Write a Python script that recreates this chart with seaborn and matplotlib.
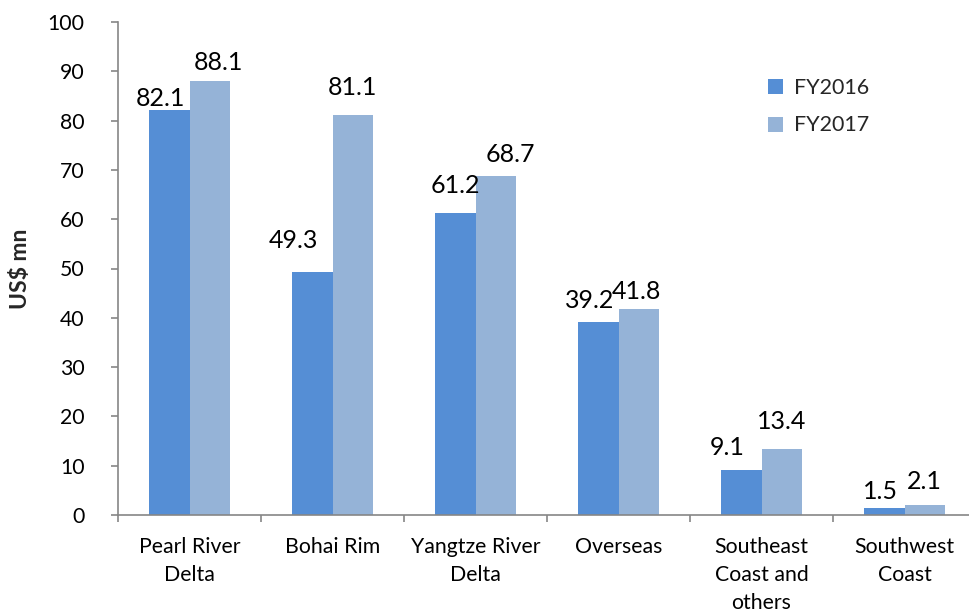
import matplotlib
matplotlib.use("Agg")
import matplotlib.pyplot as plt
from matplotlib.lines import Line2D
import seaborn as sns
import pandas as pd
import numpy as np

categories = ["Pearl River\nDelta", "Bohai Rim", "Yangtze River\nDelta", "Overseas",
              "Southeast\nCoast and\nothers", "Southwest\nCoast"]
series_names = ["FY2016", "FY2017"]
fy2016 = [82.1, 49.3, 61.2, 39.2, 9.1, 1.5]
fy2017 = [88.1, 81.1, 68.7, 41.8, 13.4, 2.1]
y_ticks = [0, 10, 20, 30, 40, 50, 60, 70, 80, 90, 100]

colors = ["#558ED5", "#95B3D7"]
# label offsets in pixels (dx, gap above bar top to baseline), mimicking the reference placement
offsets = [
    [(-9, 4), (-19, 24), (0, 20), (-8, 14), (-14, 15), (-4, 9)],
    [(9, 11), (0, 20), (14, 14), (-2, 10), (0, 20), (-1, 16)],
]

df = pd.DataFrame({
    "Region": categories * 2,
    "Value": fy2016 + fy2017,
    "Year": [series_names[0]] * len(categories) + [series_names[1]] * len(categories),
})

sns.set_theme(style="white")
plt.rcParams["font.family"] = ["Lato", "DejaVu Sans"]

W, H = 969, 613
fig = plt.figure(figsize=(W / 100, H / 100), dpi=100)
ax = fig.add_axes([118 / W, (H - 515) / H, 858 / W, (515 - 22) / H])

sns.barplot(data=df, x="Region", y="Value", hue="Year", palette=colors,
            width=0.57, saturation=1, linewidth=0, ax=ax, legend=False)

ax.set_ylim(0, 100)
ax.set_xlim(-0.5, len(categories) - 0.5)
ax.set_yticks(y_ticks)
ax.set_yticklabels([str(t) for t in y_ticks], fontsize=15.3, color="black")

axis_color = "#868686"
for s in ["top", "right"]:
    ax.spines[s].set_visible(False)
for s in ["left", "bottom"]:
    ax.spines[s].set_color(axis_color)
    ax.spines[s].set_linewidth(1.2)

ax.tick_params(axis="y", which="major", direction="out", length=5, width=1.2,
               color=axis_color, pad=19, left=True)
ax.set_xticks(range(len(categories)))
ax.set_xticklabels(categories, fontsize=15.3, color="black", linespacing=1.5, va="top")
ax.set_xticks(np.arange(-0.5, len(categories), 1.0), minor=True)
ax.tick_params(axis="x", which="major", length=0, pad=16)
ax.tick_params(axis="x", which="minor", direction="out", length=5, width=1.2,
               color=axis_color, bottom=True)

ax.set_xlabel("")
ax.set_ylabel("US$ mn", fontsize=16.5, fontweight="bold", labelpad=12)

for ci, cont in enumerate(ax.containers):
    for bi, bar in enumerate(cont):
        h = bar.get_height()
        xc = bar.get_x() + bar.get_width() / 2
        dx, gap = offsets[ci][bi]
        ax.annotate(f"{h:.1f}", (xc, h), xytext=(dx * 0.72, gap * 0.72),
                    textcoords="offset points", ha="center", va="baseline",
                    fontsize=18, color="black")

handles = [Line2D([0], [0], marker="s", linestyle="none", markersize=10.8,
                  markerfacecolor=c, markeredgewidth=0) for c in colors]
fig.legend(handles, series_names, loc="upper left",
           bbox_to_anchor=(764 / W, 1 - 78 / H), frameon=False,
           fontsize=15.5, handlelength=1.0, handletextpad=0.4,
           labelspacing=0.8, borderpad=0, borderaxespad=0)

fig.savefig("out.png", dpi=100)
